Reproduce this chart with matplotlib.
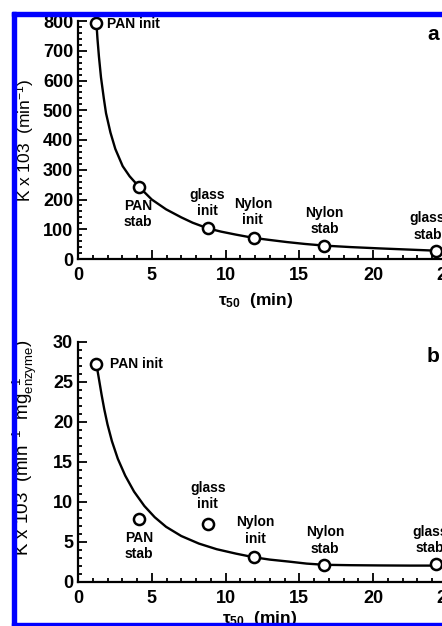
import matplotlib
matplotlib.use('Agg')
import matplotlib.pyplot as plt
from matplotlib.patches import Rectangle
from matplotlib.ticker import MultipleLocator

plt.rcParams['font.family'] = ['Liberation Sans', 'DejaVu Sans']
plt.rcParams['font.weight'] = 'bold'
plt.rcParams['mathtext.default'] = 'regular'

# ---- data ----
labels = ['PAN init', 'PAN\nstab', 'glass\ninit', 'Nylon\ninit', 'Nylon\nstab', 'glass\nstab']
tau50 = [1.25, 4.15, 8.8, 11.9, 16.7, 24.25]
k_a = [793, 242, 103, 71, 45, 28]          # K x 10^3 (min^-1)
k_b = [27.2, 7.9, 7.3, 3.1, 2.1, 2.25]      # K x 10^3 (min^-1 mg^-1 enzyme)

# fitted curves, points
curve_a_x = [1.25, 1.32, 1.42, 1.56, 1.75, 1.9, 2.2, 2.53, 3.03, 3.5, 4.15, 5.0, 5.97, 7.0,
             7.77, 8.8, 9.7, 10.7, 11.9, 13.0, 14.15, 15.4, 16.7, 18.5, 20.5, 22.5, 24.25]
curve_a_y = [793, 740, 680, 610, 540, 490, 425, 370, 312, 278, 242, 200, 167, 140,
             122, 103, 92, 82, 71, 64, 57, 50.5, 45, 40, 35.5, 31.5, 28]
curve_b_x = [1.25, 1.4, 1.6, 1.78, 2.0, 2.3, 2.7, 3.2, 3.8, 4.5, 5.2, 5.97, 7.0, 8.2, 9.4,
             10.7, 11.9, 13.0, 14.3, 15.5, 16.7, 18.5, 20.5, 22.5, 24.25]
curve_b_y = [27.2, 25.6, 23.4, 21.6, 19.7, 17.6, 15.4, 13.3, 11.3, 9.5, 8.1, 6.9, 5.75, 4.8, 4.1,
             3.55, 3.1, 2.8, 2.55, 2.3, 2.15, 2.1, 2.07, 2.05, 2.05]

xticks = [0, 5, 10, 15, 20, 25]
yticks_a = [0, 100, 200, 300, 400, 500, 600, 700, 800]
yticks_b = [0, 5, 10, 15, 20, 25, 30]

# label positions (data coords)
lab_pos_a = [(1.97, 790), (4.07, 151), (8.75, 188), (11.86, 158), (16.7, 128), (23.7, 108)]
lab_pos_b = [(2.17, 27.2), (4.15, 4.5), (8.8, 10.75), (12.0, 6.44), (16.75, 5.2), (23.86, 5.25)]

W, H = 442, 626
fig = plt.figure(figsize=(W / 100, H / 100), dpi=100)
fig.patch.set_facecolor('white')


def rect(l, r, t, b):
    return [l / W, 1 - b / H, (r - l) / W, (b - t) / H]


ax1 = fig.add_axes(rect(78, 446.75, 21, 259))
ax2 = fig.add_axes(rect(78, 446.75, 342, 582))


def style(ax, yt, ymaj, ymin):
    ax.set_xlim(0, 25)
    ax.set_ylim(yt[0], yt[-1])
    ax.set_xticks(xticks)
    ax.set_yticks(yt)
    ax.xaxis.set_minor_locator(MultipleLocator(1))
    ax.yaxis.set_minor_locator(MultipleLocator(ymin))
    ax.spines['top'].set_visible(False)
    ax.spines['right'].set_visible(False)
    for s in ('left', 'bottom'):
        ax.spines[s].set_linewidth(1.6)
    ax.tick_params(which='both', direction='in', width=1.3)
    ax.tick_params(which='major', length=6.5, labelsize=13)
    ax.tick_params(which='minor', length=3.2)
    ax.tick_params(axis='x', which='major', pad=6)
    ax.tick_params(axis='y', which='major', pad=3.5)
    for lab in ax.get_xticklabels() + ax.get_yticklabels():
        lab.set_fontweight('bold')


style(ax1, yticks_a, 100, 20)
style(ax2, yticks_b, 5, 1)

for ax, cx, cy, ky, pos in ((ax1, curve_a_x, curve_a_y, k_a, lab_pos_a),
                            (ax2, curve_b_x, curve_b_y, k_b, lab_pos_b)):
    ax.plot(cx, cy, color='black', lw=1.7, zorder=2, clip_on=False)
    ax.plot(tau50, ky, 'o', mfc='white', mec='black', ms=8, mew=1.8,
            zorder=3, clip_on=False)
    for i, (lab, (px, py)) in enumerate(zip(labels, pos)):
        ax.text(px, py, lab, ha='left' if i == 0 else 'center', va='center',
                fontsize=10, fontweight='bold', linespacing=1.25, clip_on=False)

ax1.text(24.07, 753, 'a', ha='center', va='center', fontsize=15, fontweight='bold')
ax2.text(24.07, 28.2, 'b', ha='center', va='center', fontsize=15, fontweight='bold')

fig.text(256 / W, 1 - 301 / H, 'τ$_{50}$  (min)', ha='center', va='center',
         fontsize=12.5, fontweight='bold')
fig.text(260 / W, 1 - 619 / H, 'τ$_{50}$  (min)', ha='center', va='center',
         fontsize=12.5, fontweight='bold')
fig.text(25 / W, 1 - 140 / H, 'K x 103  (min$^{-1}$)', rotation=90,
         ha='center', va='center', fontsize=12.5, fontweight='normal')
fig.text(25 / W, 1 - 448 / H, 'K x 103  (min$^{-1}$  mg$^{-1}_{enzyme}$)', rotation=90,
         ha='center', va='center', fontsize=13.5, fontweight='normal')

# blue frame of the cropped figure
blue = '#0000ff'
fig.add_artist(Rectangle((12 / W, 0), 4 / W, 1 - 12 / H, transform=fig.transFigure,
                         color=blue, zorder=20))
fig.add_artist(Rectangle((12 / W, 1 - 16 / H), 1, 4 / H, transform=fig.transFigure,
                         color=blue, zorder=20))
fig.add_artist(Rectangle((12 / W, 0), 1, 3 / H, transform=fig.transFigure,
                         color=blue, zorder=20))

fig.savefig('out.png', dpi=100, facecolor='white')
